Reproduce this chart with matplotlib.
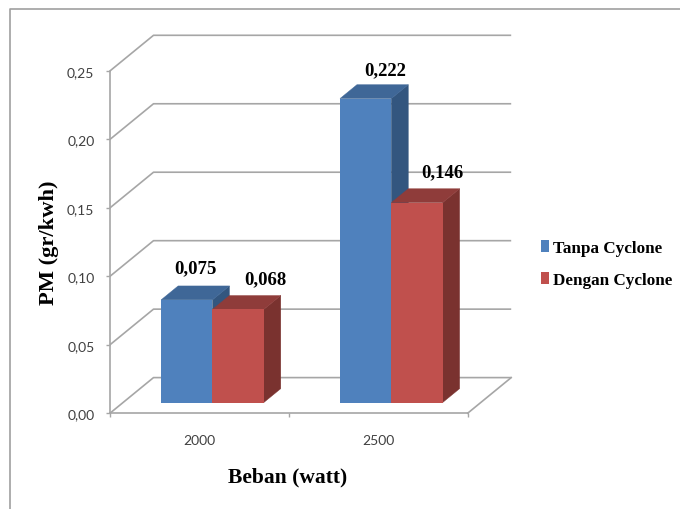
import matplotlib
matplotlib.use("Agg")
import matplotlib.pyplot as plt
from matplotlib.lines import Line2D
from matplotlib.patches import Patch, Polygon

categories = ["2000", "2500"]
series_names = ["Tanpa Cyclone", "Dengan Cyclone"]
tanpa_cyclone = [0.075, 0.222]
dengan_cyclone = [0.068, 0.146]
value_labels = [["0,075", "0,222"], ["0,068", "0,146"]]
y_ticks = [0.00, 0.05, 0.10, 0.15, 0.20, 0.25]
y_tick_labels = ["0,00", "0,05", "0,10", "0,15", "0,20", "0,25"]

W, H = 680, 510
L, R, B, T = 110.0, 467.7, 414.2, 71.9
XMAX, YMAX = 2.0, 0.25
# depth of the 3D box, in data units per unit of depth
DX = 43.5 / ((R - L) / XMAX)
DY = 35.6 / ((B - T) / YMAX)
BAR_W = 0.287
D0, D1 = 0.30, 0.69  # bar front/back depth as fractions of the floor depth
GRID = "#A6A6A6"
FRONT = ["#4F81BD", "#C0504D"]
TOP = ["#3F6797", "#8F3C3A"]
SIDE = ["#33567F", "#7A322F"]

SERIF = "Liberation Serif"
fig = plt.figure(figsize=(W / 100, H / 100), dpi=100, facecolor="white")
ax = fig.add_axes([L / W, (H - B) / H, (R - L) / W, (B - T) / H])
ax.set_xlim(0, XMAX)
ax.set_ylim(0, YMAX)
ax.patch.set_visible(False)


def proj(x, y, d):
    return (x + d * DX, y + d * DY)


# outer frame running off the picture on the right and bottom
fig.add_artist(Line2D([1.02, 9.5 / W, 9.5 / W], [(H - 9.5) / H, (H - 9.5) / H, -0.02],
                      transform=fig.transFigure, color="#A0A0A0", lw=1.2))

# walls and floor
for v in y_ticks:
    pts = [proj(0, v, 0), proj(0, v, 1), proj(XMAX, v, 1)]
    ax.plot(*zip(*pts), color=GRID, lw=1.2, clip_on=False, zorder=1, solid_capstyle="butt")
pts = [proj(XMAX, 0, 0), proj(XMAX, 0, 1)]
ax.plot(*zip(*pts), color=GRID, lw=1.2, clip_on=False, zorder=1)

# bars
z = 2
for c in range(len(categories)):
    for s, values in enumerate([tanpa_cyclone, dengan_cyclone]):
        v = values[c]
        x0 = c + 0.5 - BAR_W + s * BAR_W
        x1 = x0 + BAR_W
        ox, oy = proj(0, 0, D0)
        dx = (D1 - D0) * DX
        dy = (D1 - D0) * DY
        ax.add_patch(Polygon([(x1 + ox, oy), (x1 + ox + dx, oy + dy),
                              (x1 + ox + dx, v + oy + dy), (x1 + ox, v + oy)],
                             closed=True, fc=SIDE[s], ec=SIDE[s], lw=0.3, zorder=z, clip_on=False))
        ax.add_patch(Polygon([(x0 + ox, v + oy), (x1 + ox, v + oy),
                              (x1 + ox + dx, v + oy + dy), (x0 + ox + dx, v + oy + dy)],
                             closed=True, fc=TOP[s], ec=TOP[s], lw=0.3, zorder=z, clip_on=False))
        ax.bar(x0 + ox, v, BAR_W, bottom=oy, align="edge", color=FRONT[s], lw=0,
               zorder=z + 0.5, clip_on=False)
        z += 1

# value labels (hand-placed in the original), offsets in points from the bar's front-top centre
offsets = [[(6.3, 22.8), (14.2, 20.8)], [(19.3, 21.9), (18.2, 22.3)]]
for s, values in enumerate([tanpa_cyclone, dengan_cyclone]):
    for c, v in enumerate(values):
        ox, oy = proj(0, 0, D0)
        xc = c + 0.5 - BAR_W + s * BAR_W + BAR_W / 2 + ox
        ax.annotate(value_labels[s][c], (xc, v + oy), xytext=offsets[s][c],
                    textcoords="offset points", ha="center", va="center", family=SERIF,
                    fontweight="bold", fontsize=13.5, color="black", zorder=20,
                    annotation_clip=False)

# axes
for side in ("top", "right"):
    ax.spines[side].set_visible(False)
for side in ("left", "bottom"):
    ax.spines[side].set_color(GRID)
    ax.spines[side].set_linewidth(1.2)
    ax.spines[side].set_zorder(1.5)

ax.set_yticks(y_ticks, y_tick_labels, family="Lato", fontsize=10, color="#404040")
ax.tick_params(axis="y", length=3.2, width=1.0, color=GRID, pad=8)
ax.set_xticks([0, 1, 2], ["", "", ""])
ax.tick_params(axis="x", which="major", length=3.2, width=1.0, color=GRID)
ax.set_xticks([0.5, 1.5], categories, minor=True, family="Lato", fontsize=10, color="#404040")
ax.tick_params(axis="x", which="minor", length=0, pad=15)

ax.set_xlabel("Beban (watt)", family=SERIF, fontweight="bold", fontsize=15.5, color="black", va="center")
ax.xaxis.set_label_coords((288 - L) / (R - L), (B - 477) / (B - T))
ax.set_ylabel("PM (gr/kwh)", family=SERIF, fontweight="bold", fontsize=16.2, color="black", va="center")
ax.yaxis.set_label_coords((49 - L) / (R - L), (B - 243) / (B - T))

# legend
handles = [Patch(fc=FRONT[i], ec="none") for i in range(2)]
fig.legend(handles, series_names, loc="center left",
           bbox_to_anchor=(540.5 / W, (H - 265) / H), frameon=False, borderpad=0, borderaxespad=0,
           handlelength=0.52, handleheight=0.7, handletextpad=0.22, labelspacing=0.89,
           prop={"family": SERIF, "size": 12.3, "weight": "bold"})

fig.savefig("out.png", dpi=100)
